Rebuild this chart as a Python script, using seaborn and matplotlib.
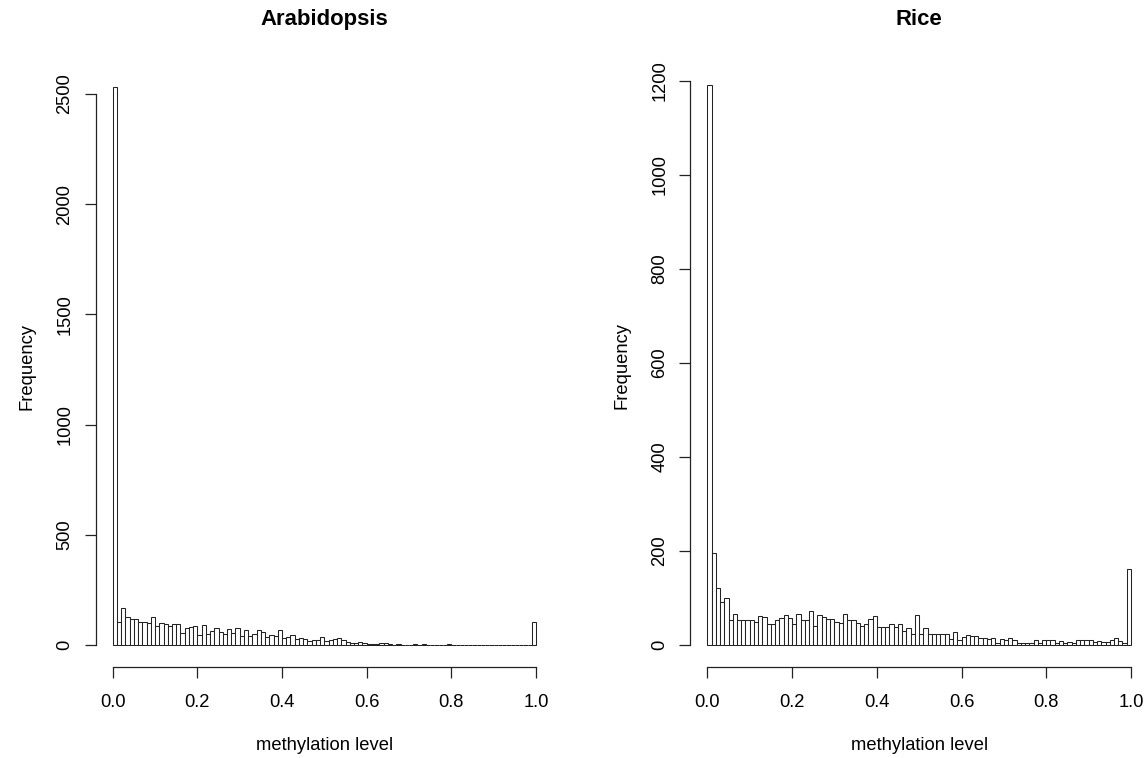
import numpy as np
import pandas as pd
import matplotlib
matplotlib.use("Agg")
import matplotlib.pyplot as plt
import seaborn as sns

# ---- data: counts per 0.01-wide bin of methylation level (0..1) ----
bin_edges = [round(i * 0.01, 2) for i in range(101)]

arabidopsis_counts = [
    2530, 103, 169, 128, 116, 116, 103, 103, 100, 125,
    84, 100, 94, 88, 94, 94, 56, 76, 80, 88,
    47, 91, 50, 63, 79, 57, 50, 71, 56, 76,
    41, 66, 39, 50, 66, 57, 35, 47, 39, 66,
    30, 35, 44, 27, 33, 29, 20, 24, 23, 35,
    18, 23, 27, 30, 21, 12, 11, 11, 12, 8,
    6, 5, 6, 8, 8, 3, 2, 3, 1, 2,
    1, 4, 1, 3, 1, 0, 1, 1, 2, 3,
    1, 1, 0, 1, 1, 0, 1, 1, 0, 1,
    2, 1, 1, 1, 2, 2, 1, 1, 1, 103,
]

rice_counts = [
    1190, 196, 122, 91, 99, 54, 67, 54, 54, 54,
    54, 48, 61, 59, 45, 45, 53, 58, 63, 58,
    44, 67, 53, 54, 72, 41, 64, 59, 56, 56,
    48, 46, 67, 53, 53, 46, 41, 44, 56, 61,
    38, 39, 39, 44, 38, 44, 30, 36, 23, 64,
    23, 36, 24, 23, 24, 24, 24, 13, 27, 10,
    17, 21, 19, 20, 14, 14, 13, 14, 5, 13,
    10, 14, 10, 5, 5, 5, 5, 11, 4, 10,
    11, 10, 4, 9, 5, 7, 4, 10, 11, 11,
    10, 6, 8, 6, 6, 10, 14, 8, 4, 161,
]

titles = ["Arabidopsis", "Rice"]
x_label = "methylation level"
y_label = "Frequency"
x_ticks = [0.0, 0.2, 0.4, 0.6, 0.8, 1.0]
y_ticks_left = [0, 500, 1000, 1500, 2000, 2500]
y_ticks_right = [0, 200, 400, 600, 800, 1000, 1200]

assert len(arabidopsis_counts) == 100 and len(rice_counts) == 100

sns.set_style("ticks")
plt.rcParams["font.family"] = ["Liberation Sans", "DejaVu Sans"]
plt.rcParams["text.color"] = "black"
plt.rcParams["axes.labelcolor"] = "black"

fig = plt.figure(figsize=(11.47, 7.58), dpi=100)

W, H = 1147.0, 758.0
# axes positions in pixels (left, top, right, bottom)
boxes = [
    (95.8, 65.0, 552.9, 667.3),
    (690.4, 63.0, 1147.9, 667.4),
]

centers = [(bin_edges[i] + bin_edges[i + 1]) / 2 for i in range(100)]
datasets = [arabidopsis_counts, rice_counts]
yticks_all = [y_ticks_left, y_ticks_right]

LABEL_FS = 13.2
TITLE_FS = 15.9

for k in range(2):
    l, t, r, b = boxes[k]
    ax = fig.add_axes([l / W, (H - b) / H, (r - l) / W, (b - t) / H])
    df = pd.DataFrame({"level": centers, "count": datasets[k]})
    sns.histplot(data=df, x="level", weights="count", bins=bin_edges, ax=ax,
                 color="white", edgecolor="#222222", linewidth=0.75, alpha=1,
                 stat="count")
    cmax = max(datasets[k])
    ax.set_xlim(-0.04, 1.04)
    ax.set_ylim(-0.04 * cmax, 1.04 * cmax)
    ax.set_xticks(x_ticks)
    ax.set_xticklabels([f"{v:.1f}" for v in x_ticks])
    yt = yticks_all[k]
    ax.set_yticks(yt)
    ax.set_yticklabels([str(v) for v in yt], rotation=90, va="center")
    for s in ["top", "right"]:
        ax.spines[s].set_visible(False)
    ax.spines["left"].set_bounds(yt[0], yt[-1])
    ax.spines["bottom"].set_bounds(x_ticks[0], x_ticks[-1])
    for s in ["left", "bottom"]:
        ax.spines[s].set_linewidth(0.9)
        ax.spines[s].set_color("#222222")
    ax.tick_params(axis="both", length=8, width=0.9, color="#222222",
                   labelsize=LABEL_FS, labelcolor="black")
    ax.tick_params(axis="x", pad=11)
    ax.tick_params(axis="y", pad=8)
    ax.grid(False)
    ax.set_facecolor("white")
    # title baseline at ~25 px from the top of the figure
    ax.set_title(titles[k], fontsize=TITLE_FS, fontweight="bold",
                 pad=(t - 25) * 0.72, color="black")
    ax.set_xlabel(x_label, fontsize=LABEL_FS)
    ax.set_ylabel(y_label, fontsize=LABEL_FS)
    ax.xaxis.set_label_coords(0.5, ((H - 737) / H - (H - b) / H) / ((b - t) / H))
    ax.yaxis.set_label_coords(-60.0 / (r - l), 0.5)

fig.savefig("out.png", dpi=100, facecolor="white")
